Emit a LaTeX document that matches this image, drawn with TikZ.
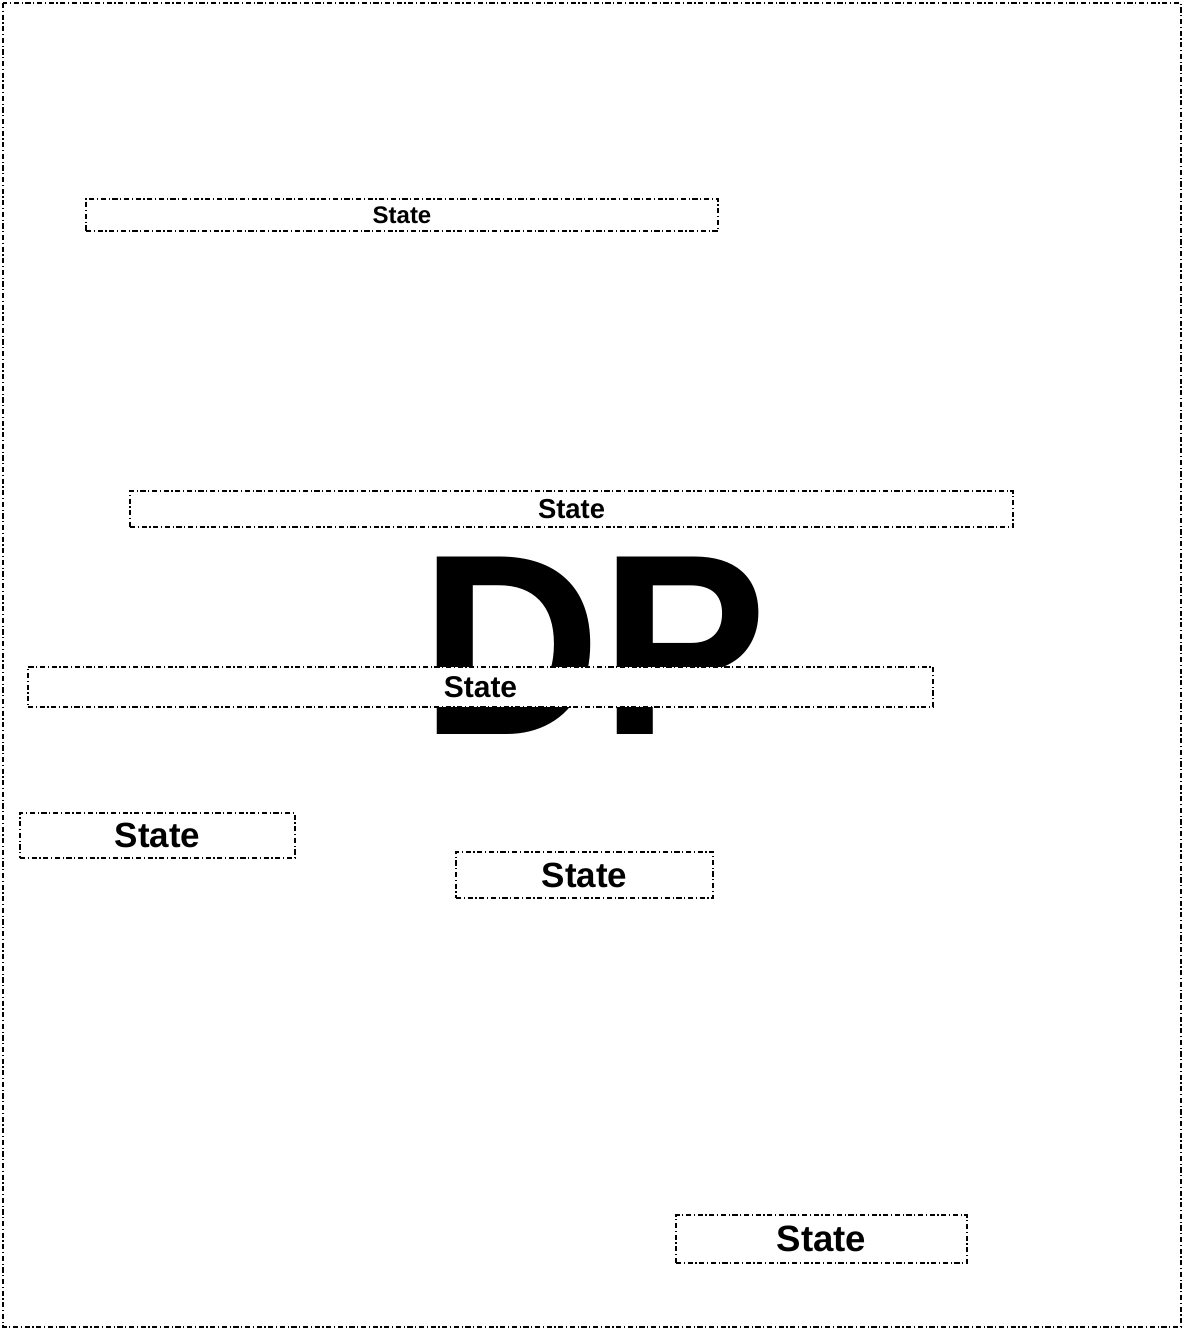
\documentclass[tikz,border=0pt]{standalone}
\usepackage{fontspec}
\setmainfont{Liberation Sans}
\usetikzlibrary{positioning}

\begin{document}
\begin{tikzpicture}[
  x=0.5pt, y=-0.5pt,
  dd/.style={line width=0.7pt, dash pattern=on 2.6pt off 1.3pt on 0.6pt off 1.3pt},
  state/.style={draw, dd, fill=white, rectangle, inner sep=0pt, align=center},
  big/.style={inner sep=0pt, outer sep=0pt, font=\fontsize{129}{129}\selectfont\bfseries}
]
\useasboundingbox (0,0) rectangle (1184,1330);
\draw[dd] (3,3) rectangle (1181,1327);

\node[big, xscale=0.97] (dp) at (594,646) {DP};

\node[state, minimum width=316pt, minimum height=16pt, font=\fontsize{12}{12}\selectfont\bfseries] (st1) at (402,215) {State};
\node[state, minimum width=441.5pt, minimum height=18pt, font=\fontsize{13.7}{13.7}\selectfont\bfseries] (st2) at (571.5,509) {State};
\node[state, minimum width=452.5pt, minimum height=20pt, font=\fontsize{15}{15}\selectfont\bfseries] (st3) at (480.5,687) {State};
\node[state, minimum width=137.5pt, minimum height=22.5pt, font=\fontsize{17.5}{17.5}\selectfont\bfseries] (st4) at (157.5,835.5) {State};
\node[state, minimum width=128.5pt, minimum height=23pt, font=\fontsize{17.5}{17.5}\selectfont\bfseries] (st5) at (584.5,875) {State};
\node[state, minimum width=145.5pt, minimum height=24pt, font=\fontsize{18.3}{18.3}\selectfont\bfseries] (st6) at (821.5,1239) {State};
\end{tikzpicture}
\end{document}
